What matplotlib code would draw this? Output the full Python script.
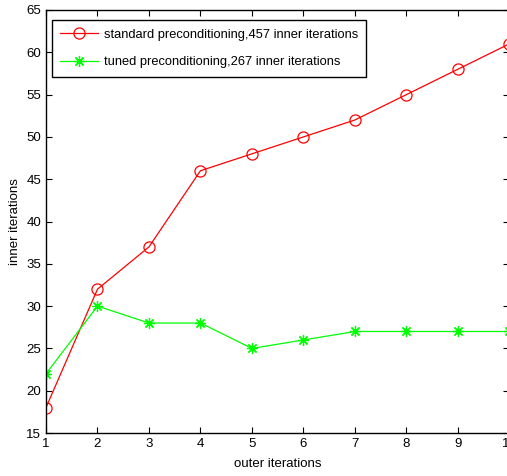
import matplotlib
matplotlib.use("Agg")
import matplotlib.pyplot as plt

plt.rcParams['font.family'] = ['Liberation Sans', 'DejaVu Sans']

outer = [1, 2, 3, 4, 5, 6, 7, 8, 9, 10]
standard = [18, 32, 37, 46, 48, 50, 52, 55, 58, 61]
tuned = [22, 30, 28, 28, 25, 26, 27, 27, 27, 27]

fig = plt.figure(figsize=(5.07, 4.76), dpi=100)
ax = fig.add_axes([0.0907, 0.0903, 0.914, 0.8887])

ax.plot(outer, standard, color='red', lw=0.9, marker='o', markersize=8,
        markerfacecolor='none', markeredgecolor='red', markeredgewidth=0.9,
        label='standard preconditioning,457 inner iterations')
ax.plot(outer, tuned, color='#00ff00', lw=0.9, marker=(8, 2, 0), markersize=8,
        markeredgecolor='#00ff00', markeredgewidth=0.9,
        label='tuned preconditioning,267 inner iterations')

ax.set_xlim(1, 10)
ax.set_ylim(15, 65)
ax.set_xticks(outer)
ax.set_yticks(range(15, 66, 5))
ax.tick_params(direction='in', top=True, right=True, labelsize=9.5, length=4, width=0.8)
for s in ax.spines.values():
    s.set_linewidth(1.0)

ax.set_xlabel('outer iterations', fontsize=9.5, labelpad=6)
ax.set_ylabel('inner iterations', fontsize=9.5, labelpad=4)

leg = ax.legend(loc='upper left', bbox_to_anchor=(0.013, 0.976), borderaxespad=0,
                fontsize=9.3, fancybox=False, edgecolor='black', framealpha=1,
                handlelength=2.9, handletextpad=0.45, borderpad=0.65, labelspacing=1.2)
leg.get_frame().set_linewidth(1.0)

fig.savefig('out.png', dpi=100)
